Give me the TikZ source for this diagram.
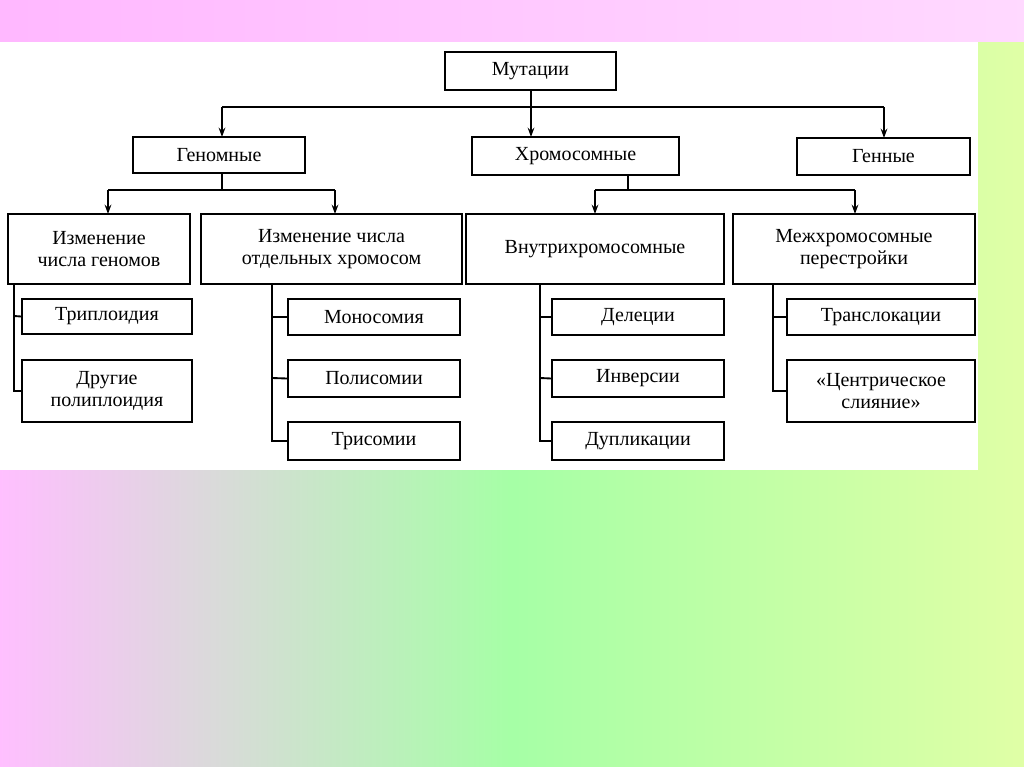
\documentclass[tikz,border=0pt]{standalone}
\usepackage{fontspec}
\setmainfont{Liberation Serif}
\usetikzlibrary{arrows.meta}
\begin{document}
\begin{tikzpicture}[x=0.75pt,y=-0.75pt,
  bx/.style={draw,line width=1.4pt,fill=white,inner sep=0pt,align=center,font=\fontsize{15}{16}\selectfont},
  ar/.style={line width=1.4pt,-{Stealth[length=7pt,width=5pt]}},
  ln/.style={line width=1.4pt}]
\shade[left color=magenta!25, right color=green!35!yellow!35, middle color=green!35] (0,0) rectangle (1024,767);
\shade[left color=magenta!28,right color=magenta!15] (0,0) rectangle (1024,42);
\fill[white] (0,42) rectangle (978,470);
\useasboundingbox (0,0) rectangle (1024,767);
\newcommand{\bx}[6]{\node[bx,minimum width=(#4-#2)*0.75pt,minimum height=(#5-#3)*0.75pt] (#1) at ({(#2+#4)/2},{(#3+#5)/2}) {#6};}
\bx{m}{445}{52}{616}{90}{Мутации}
\bx{g}{133}{137}{305}{173}{Геномные}
\bx{h}{472}{137}{679}{175}{Хромосомные}
\bx{gn}{797}{138}{970}{175}{Генные}
\bx{a}{8}{214}{190}{284}{Изменение\\числа геномов}
\bx{b}{201}{214}{462}{284}{Изменение числа\\отдельных хромосом}
\bx{c}{466}{214}{724}{284}{Внутрихромосомные}
\bx{d}{733}{214}{975}{284}{Межхромосомные\\перестройки}
\bx{a1}{22}{299}{192}{334}{Триплоидия}
\bx{a2}{22}{360}{192}{422}{Другие\\полиплоидия}
\bx{b1}{288}{299}{460}{335}{Моносомия}
\bx{b2}{288}{360}{460}{397}{Полисомии}
\bx{b3}{288}{422}{460}{460}{Трисомии}
\bx{c1}{552}{299}{724}{335}{Делеции}
\bx{c2}{552}{360}{724}{397}{Инверсии}
\bx{c3}{552}{422}{724}{460}{Дупликации}
\bx{d1}{787}{299}{975}{335}{Транслокации}
\bx{d2}{787}{360}{975}{422}{«Центрическое\\слияние»}
% level 1
\coordinate (mj) at (531,107);
\draw[ln] (531,90) -- (mj);
\draw[ln] (222,107) -- (884,107);
\draw[ar] (222,107) -- (222,137);
\draw[ar] (531,107) -- (531,137);
\draw[ar] (884,107) -- (884,138);
% level 2
\draw[ln] (222,173) -- (222,190) (108,190) -- (335,190);
\draw[ar] (108,190) -- (108,214);
\draw[ar] (335,190) -- (335,214);
\draw[ln] (628,175) -- (628,190) (595,190) -- (855,190);
\draw[ar] (595,190) -- (595,214);
\draw[ar] (855,190) -- (855,214);
% sublists
\draw[ln] (14,284) -- (14,391) -- (a2.west |- 14,391) (14,316) -- (a1.west);
\draw[ln] (272,284) -- (272,441) -- (b3.west) (272,317) -- (b1.west) (272,378) -- (b2.west);
\draw[ln] (540,284) -- (540,441) -- (c3.west) (540,317) -- (c1.west) (540,378) -- (c2.west);
\draw[ln] (773,284) -- (773,391) -- (d2.west) (773,317) -- (d1.west);
\end{tikzpicture}
\end{document}
